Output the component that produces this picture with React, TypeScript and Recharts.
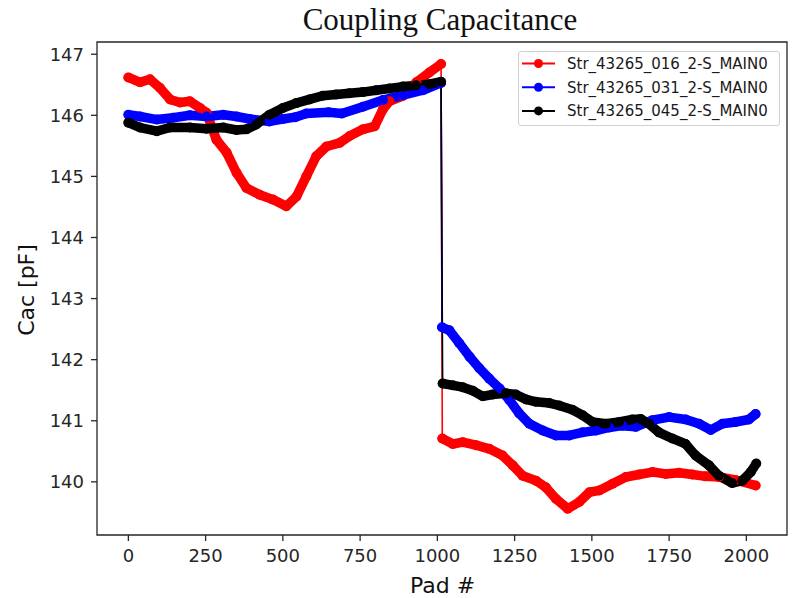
import React from "react";
import { LineChart, Line, XAxis, YAxis, ReferenceArea } from "recharts";

// ---- data ----
const redPads1 = [0, 38, 70, 102, 135, 167, 199, 232, 253, 285, 318, 350, 382, 425, 468, 511, 544, 576, 608, 641, 684, 716, 759, 797, 824, 845, 889, 932, 974, 1012];
const redVals1 = [146.62, 146.54, 146.59, 146.45, 146.26, 146.21, 146.23, 146.12, 146.04, 145.6, 145.39, 145.06, 144.81, 144.7, 144.62, 144.51, 144.67, 145.0, 145.33, 145.49, 145.55, 145.66, 145.77, 145.82, 146.1, 146.23, 146.32, 146.54, 146.7, 146.84];
const redPads2 = [1016, 1050, 1082, 1125, 1168, 1211, 1244, 1276, 1319, 1351, 1384, 1422, 1459, 1492, 1524, 1567, 1610, 1653, 1696, 1739, 1782, 1825, 1868, 1911, 1965, 2030];
const redVals2 = [140.71, 140.62, 140.65, 140.6, 140.54, 140.43, 140.27, 140.1, 140.02, 139.91, 139.72, 139.56, 139.67, 139.83, 139.86, 139.97, 140.08, 140.12, 140.16, 140.13, 140.15, 140.12, 140.09, 140.08, 140.03, 139.94];

const bluePads1 = [0, 38, 92, 145, 199, 253, 307, 350, 393, 457, 500, 540, 576, 648, 691, 759, 824, 889, 953, 1012];
const blueVals1 = [146.01, 145.98, 145.93, 145.96, 146.0, 145.98, 146.01, 145.98, 145.94, 145.9, 145.94, 145.97, 146.03, 146.05, 146.03, 146.14, 146.25, 146.33, 146.41, 146.53];
const bluePads2 = [1015, 1039, 1071, 1104, 1136, 1168, 1201, 1233, 1265, 1298, 1341, 1384, 1427, 1470, 1513, 1556, 1599, 1642, 1696, 1750, 1804, 1847, 1885, 1922, 1965, 2008, 2030];
const blueVals2 = [142.53, 142.48, 142.27, 142.05, 141.86, 141.69, 141.53, 141.34, 141.12, 140.95, 140.84, 140.76, 140.76, 140.81, 140.84, 140.89, 140.92, 140.9, 141.01, 141.06, 141.02, 140.95, 140.85, 140.95, 140.98, 141.02, 141.11];

const blackPads1 = [0, 38, 92, 135, 199, 253, 307, 350, 382, 414, 457, 500, 543, 586, 629, 672, 715, 759, 802, 845, 888, 931, 974, 1012];
const blackVals1 = [145.88, 145.8, 145.74, 145.8, 145.8, 145.78, 145.8, 145.76, 145.77, 145.85, 146.01, 146.12, 146.2, 146.26, 146.32, 146.34, 146.36, 146.38, 146.41, 146.44, 146.47, 146.49, 146.51, 146.55];
const blackPads2 = [1017, 1050, 1082, 1115, 1147, 1179, 1222, 1254, 1287, 1319, 1362, 1394, 1437, 1470, 1502, 1545, 1588, 1631, 1658, 1685, 1717, 1760, 1803, 1836, 1879, 1911, 1954, 1987, 2014, 2032];
const blackVals2 = [141.61, 141.58, 141.55, 141.49, 141.4, 141.43, 141.45, 141.43, 141.35, 141.31, 141.29, 141.25, 141.18, 141.09, 140.98, 140.95, 140.98, 141.02, 141.03, 140.95, 140.81, 140.71, 140.62, 140.43, 140.27, 140.1, 139.98, 140.02, 140.16, 140.3];

const seriesNames = ["Str_43265_016_2-S_MAIN0", "Str_43265_031_2-S_MAIN0", "Str_43265_045_2-S_MAIN0"];
const seriesColors = ["#ff0000", "#0000ff", "#000000"];
const xTicks = [0, 250, 500, 750, 1000, 1250, 1500, 1750, 2000];
const yTicks = [140, 141, 142, 143, 144, 145, 146, 147];

const X_DOMAIN = [-101.5, 2131.5];
const Y_DOMAIN = [139.13, 147.2];

type Pt = { pad: number; v: number | null };

const zip = (p: number[], v: number[]): Pt[] => p.map((pad, i) => ({ pad, v: v[i] }));

const raw = [
  { p1: redPads1, v1: redVals1, p2: redPads2, v2: redVals2 },
  { p1: bluePads1, v1: blueVals1, p2: bluePads2, v2: blueVals2 },
  { p1: blackPads1, v1: blackVals1, p2: blackPads2, v2: blackVals2 },
];

const series = raw.map((r, i) => {
  const a = zip(r.p1, r.v1);
  const b = zip(r.p2, r.v2);
  return {
    name: seriesNames[i],
    color: seriesColors[i],
    full: [...a, ...b],
    band: [...a, { pad: (r.p1[r.p1.length - 1] + r.p2[0]) / 2, v: null }, ...b],
  };
});

const FONT = "'DejaVu Sans', sans-serif";
const AX = "#262626";

const LegendBox = () => (
  <div
    style={{
      position: "absolute",
      left: 518,
      top: 51,
      width: 262,
      height: 75,
      border: "1px solid #d0d0d0",
      borderRadius: 3,
      background: "rgba(255,255,255,0.85)",
      boxSizing: "border-box",
    }}
  >
    <svg width={262} height={75} style={{ position: "absolute", left: -1, top: -1 }}>
      {series.map((s, i) => {
        const y = 12.5 + i * 23.7;
        return (
          <g key={s.name}>
            <line x1={4} x2={37} y1={y} y2={y} stroke={s.color} strokeWidth={2} />
            <circle cx={20.5} cy={y} r={4.5} fill={s.color} />
            <text x={49} y={y + 5.3} fontFamily={FONT} fontSize={15} fill="#1a1a1a">
              {s.name}
            </text>
          </g>
        );
      })}
    </svg>
  </div>
);

export default function App() {
  return (
    <div
      style={{
        position: "absolute",
        left: 0,
        top: 0,
        width: 792,
        height: 598,
        background: "#fff",
        overflow: "hidden",
      }}
    >
      <LineChart width={792} height={598} margin={{ top: 42, right: 5, bottom: 0, left: 0 }}>
        <XAxis
          dataKey="pad"
          type="number"
          domain={X_DOMAIN}
          ticks={xTicks}
          allowDataOverflow
          height={63}
          axisLine={false}
          tickLine={{ stroke: AX, strokeWidth: 1.3 }}
          tickSize={6}
          tickMargin={8}
          tick={{ fontFamily: FONT, fontSize: 18, fill: AX }}
        />
        <YAxis
          type="number"
          domain={Y_DOMAIN}
          ticks={yTicks}
          allowDataOverflow
          width={97}
          axisLine={false}
          tickLine={{ stroke: AX, strokeWidth: 1.3 }}
          tickSize={6}
          tickMargin={7}
          tick={{ fontFamily: FONT, fontSize: 18, fill: AX }}
        />
        <ReferenceArea
          x1={X_DOMAIN[0]}
          x2={X_DOMAIN[1]}
          y1={Y_DOMAIN[0]}
          y2={Y_DOMAIN[1]}
          fill="none"
          stroke={AX}
          strokeWidth={1.3}
          fillOpacity={0}
          ifOverflow="visible"
        />
        {series.flatMap((s) => [
          <Line
            key={s.name + "-band"}
            data={s.band}
            dataKey="v"
            type="linear"
            stroke={s.color}
            strokeWidth={9.5}
            strokeLinejoin="round"
            strokeLinecap="round"
            dot={false}
            activeDot={false}
            connectNulls={false}
            legendType="none"
            isAnimationActive={false}
          />,
          <Line
            key={s.name + "-line"}
            data={s.full}
            dataKey="v"
            name={s.name}
            type="linear"
            stroke={s.color}
            strokeWidth={1.6}
            dot={{ r: 5, fill: s.color, stroke: s.color, strokeWidth: 0 }}
            activeDot={false}
            isAnimationActive={false}
          />,
        ])}
      </LineChart>
      <svg
        width={792}
        height={598}
        style={{ position: "absolute", left: 0, top: 0, pointerEvents: "none" }}
      >
        <text
          x={440}
          y={30}
          textAnchor="middle"
          fontFamily="'Liberation Serif', 'Times New Roman', serif"
          fontSize={31}
          fill="#111"
        >
          Coupling Capacitance
        </text>
        <text x={442.5} y={593} textAnchor="middle" fontFamily={FONT} fontSize={22} fill="#111">
          Pad #
        </text>
        <text
          x={0}
          y={0}
          transform="translate(34,290) rotate(-90)"
          textAnchor="middle"
          fontFamily={FONT}
          fontSize={22}
          fill="#111"
        >
          Cac [pF]
        </text>
      </svg>
      <LegendBox />
    </div>
  );
}
